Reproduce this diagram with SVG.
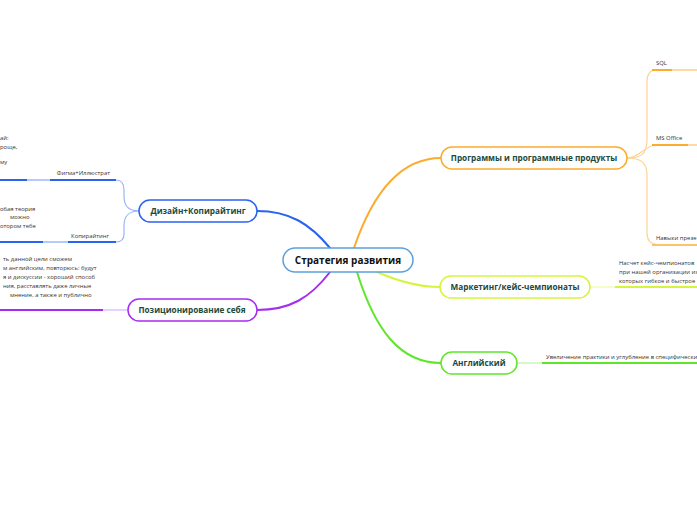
<svg xmlns="http://www.w3.org/2000/svg" width="697" height="520" viewBox="0 0 697 520">
<style>
.node{fill:#fff;stroke-width:1.5}
.nt{font-family:"Open Sans","Liberation Sans",sans-serif;font-weight:bold;font-size:8.2px;fill:#1b4a3c;text-anchor:middle}
.ct{font-family:"Open Sans","Liberation Sans",sans-serif;font-weight:bold;font-size:10px;fill:#111;text-anchor:middle}
.st{font-family:"Open Sans","Liberation Sans",sans-serif;font-size:5.9px;fill:#333}
.c{fill:none;stroke-linecap:round}
</style>
<rect width="697" height="520" fill="#fff"/>
<g id="connectors">
  <path class="c" d="M354,248 C372,195 400,158 441,158" stroke="#fbab2e" stroke-width="2"/>
  <path class="c" d="M330,248 C310,224 290,211 257,211" stroke="#2a62f2" stroke-width="2"/>
  <path class="c" d="M330,272 C310,298 290,310 257,310" stroke="#a62cf0" stroke-width="2"/>
  <path class="c" d="M377,272 C400,282 420,287 440,287" stroke="#d6f43c" stroke-width="2"/>
  <path class="c" d="M357,272 C375,330 400,363 441,363" stroke="#5fe62b" stroke-width="2"/>
  <path class="c" d="M627,158 C640,158 647,155 647,140 L647,82 C647,74 650,70 656,70" stroke="#fdd496" stroke-width="1.2"/>
  <path class="c" d="M627,158 C640,158 645,145 656,145" stroke="#fdd496" stroke-width="1.2"/>
  <path class="c" d="M627,158 C640,158 647,162 647,175 L647,232 C647,240 650,244 656,244" stroke="#fdd496" stroke-width="1.2"/>
  <line x1="652" y1="70" x2="672" y2="70" stroke="#fbab2e" stroke-width="2"/>
  <line x1="672" y1="70" x2="697" y2="70" stroke="#fdd9a3" stroke-width="2"/>
  <line x1="652" y1="145" x2="688" y2="145" stroke="#fbab2e" stroke-width="2"/>
  <line x1="688" y1="145" x2="697" y2="145" stroke="#fdd9a3" stroke-width="2"/>
  <line x1="652" y1="245" x2="697" y2="245" stroke="#fcc46a" stroke-width="2"/>
  <line x1="590" y1="287" x2="615" y2="287" stroke="#ebfaa8" stroke-width="1.2"/>
  <line x1="615" y1="287" x2="697" y2="287" stroke="#d6f43c" stroke-width="2"/>
  <line x1="517" y1="363" x2="542" y2="363" stroke="#bdf5a3" stroke-width="1.2"/>
  <line x1="542" y1="363" x2="697" y2="363" stroke="#5fe62b" stroke-width="2"/>
  <path class="c" d="M139,211 C128,211 124,206 124,196 L124,190 C124,183 121,180 116,180" stroke="#98b4fa" stroke-width="1.2"/>
  <path class="c" d="M139,211 C128,211 124,216 124,226 L124,234 C124,239 121,242 116,242" stroke="#98b4fa" stroke-width="1.2"/>
  <line x1="0" y1="180" x2="27" y2="180" stroke="#2a62f2" stroke-width="2"/>
  <line x1="27" y1="180" x2="50" y2="180" stroke="#b6cafb" stroke-width="2"/>
  <line x1="50" y1="180" x2="116" y2="180" stroke="#2a62f2" stroke-width="2"/>
  <line x1="0" y1="242" x2="43" y2="242" stroke="#2a62f2" stroke-width="2"/>
  <line x1="43" y1="242" x2="68" y2="242" stroke="#b6cafb" stroke-width="2"/>
  <line x1="68" y1="242" x2="116" y2="242" stroke="#2a62f2" stroke-width="2"/>
  <line x1="0" y1="310" x2="103" y2="310" stroke="#a62cf0" stroke-width="2"/>
  <line x1="103" y1="310" x2="128" y2="310" stroke="#dcb3f8" stroke-width="1.2"/>
</g>
<g id="center">
  <rect class="node" x="283" y="248" width="130" height="24" rx="12" stroke="#5ba0dc"/>
  <text class="ct" x="348" y="263.5">Стратегия развития</text>
</g>
<g id="programs">
  <rect class="node" x="441" y="147" width="186" height="22" rx="11" stroke="#fbab2e"/>
  <text class="nt" x="534" y="161">Программы и программные продукты</text>
</g>
<g id="marketing">
  <rect class="node" x="440" y="276" width="150" height="22" rx="11" stroke="#d6f43c"/>
  <text class="nt" x="515" y="290">Маркетинг/кейс-чемпионаты</text>
</g>
<g id="english">
  <rect class="node" x="441" y="352" width="76" height="22" rx="11" stroke="#5fe62b"/>
  <text class="nt" x="479" y="366">Английский</text>
</g>
<g id="design">
  <rect class="node" x="139" y="200" width="118" height="22" rx="11" stroke="#2a62f2"/>
  <text class="nt" x="198" y="214">Дизайн+Копирайтинг</text>
</g>
<g id="positioning">
  <rect class="node" x="128" y="299" width="129" height="22" rx="11" stroke="#a62cf0"/>
  <text class="nt" x="192" y="313">Позиционирование себя</text>
</g>
<g id="sql"><text class="st" x="656" y="65">SQL</text></g>
<g id="msoffice"><text class="st" x="656" y="140">MS Office</text></g>
<g id="presentation"><text class="st" x="656" y="240">Навыки презе</text></g>
<g id="marketing-note">
  <text class="st" x="619" y="265">Насчет кейс-чемпионатов</text>
  <text class="st" x="619" y="274">при нашей организации из</text>
  <text class="st" x="619" y="283">которых гибкое и быстрое</text>
</g>
<g id="english-note"><text class="st" x="546" y="359">Увеличение практики и углубление в специфически</text></g>
<g id="figma">
  <text class="st" x="110" y="175" text-anchor="end">Фигма+Иллюстрат</text>
  <text class="st" x="0" y="140">ай:</text>
  <text class="st" x="0" y="149">роще,</text>
  <text class="st" x="0" y="164">му</text>
</g>
<g id="copywriting">
  <text class="st" x="109" y="238" text-anchor="end">Копирайтинг</text>
  <text class="st" x="0" y="211">обая теория</text>
  <text class="st" x="10" y="219">можно</text>
  <text class="st" x="0" y="228">отором тебе</text>
</g>
<g id="positioning-note">
  <text class="st" x="3" y="261">ть данной цели сможем</text>
  <text class="st" x="3" y="270">м английским, повторюсь: будут</text>
  <text class="st" x="3" y="279">я и дискуссии - хороший способ</text>
  <text class="st" x="3" y="288">ния, расставлять даже личные</text>
  <text class="st" x="10" y="297">мнение, а также и публично</text>
</g>
</svg>
